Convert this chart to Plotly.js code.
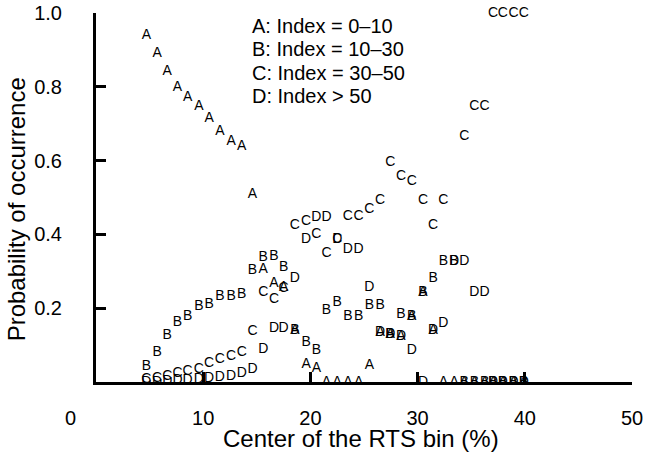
<!DOCTYPE html>
<html>
<head>
<meta charset="utf-8">
<script src="https://cdn.plot.ly/plotly-3.0.1.min.js"></script>
<style>html,body{margin:0;padding:0;background:#fff;}#chart{width:654px;height:464px;}</style>
</head>
<body>
<div id="chart"></div>
<script>
// Centers of the RTS bins (%)
const rtsBin = [4.7,5.7,6.65,7.6,8.55,9.6,10.55,11.55,12.6,13.6,14.6,15.6,16.6,17.5,18.55,19.6,20.55,21.5,22.5,23.5,24.5,25.5,26.5,27.45,28.45,29.45,30.5,31.45,32.4,33.4,34.35,35.3,36.25,37.05,37.95,38.95,39.9];

// Probability of occurrence per index class
const probA = [0.940,0.891,0.841,0.799,0.772,0.746,0.715,0.678,0.651,0.638,0.507,0.305,0.267,0.257,0.139,0.048,0.037,0,0,0,0,0.046,0.134,0.130,0.122,0.177,0.242,0.139,0,0,0,0,0,0,0,0,0];
const probB = [0.041,0.079,0.127,0.161,0.177,0.204,0.211,0.231,0.231,0.238,0.301,0.338,0.341,0.311,0.139,0.106,0.085,0.195,0.215,0.177,0.177,0.206,0.206,0.130,0.182,0.177,0.242,0.281,0.326,0.326,0,0,0,0,0,0,0];
const probC = [0.006,0.010,0.014,0.022,0.028,0.034,0.049,0.060,0.070,0.079,0.136,0.242,0.224,0.254,0.425,0.434,0.401,0.349,0.385,0.448,0.448,0.468,0.493,0.594,0.558,0.543,0.493,0.423,0.493,null,0.665,0.746,0.746,1.0,1.0,1.0,1.0];
const probD = [0,0,0.002,0.003,0.004,0.006,0.010,0.013,0.014,0.022,0.034,0.089,0.145,0.145,0.281,0.385,0.446,0.446,0.385,0.358,0.358,0.257,0.134,0.130,0.122,0.085,0,0.139,0.159,0.326,0.326,0.242,0.242,0,0,0,0];

const seriesLetters = ['A','B','C','D'];
const seriesLabels = ['A: Index = 0\u201310','B: Index = 10\u201330','C: Index = 30\u201350','D: Index > 50'];
const xTickVals = [0,10,20,30,40,50];
const xTickText = ['','10','20','30','40','50'];
const yTickVals = [0,0.2,0.4,0.6,0.8,1.0];
const yTickText = ['','0.2','0.4','0.6','0.8','1.0'];

const FONT = 'Arial, "Liberation Sans", Helvetica, sans-serif';
const allProb = [probA, probB, probC, probD];

const traces = allProb.map((ys, i) => ({
  x: rtsBin,
  y: ys,
  mode: 'text',
  type: 'scatter',
  text: ys.map(() => seriesLetters[i]),
  textposition: 'middle center',
  textfont: {family: FONT, size: 14, color: '#000'},
  cliponaxis: seriesLetters[i] !== 'C',
  showlegend: false,
  hoverinfo: 'x+y'
}));

const legendY = [0.965, 0.903, 0.838, 0.775];
const annotations = seriesLabels.map((t, i) => ({
  text: t, xref: 'paper', yref: 'paper', x: 0.287, y: legendY[i],
  xanchor: 'left', yanchor: 'middle', showarrow: false,
  font: {family: FONT, size: 20, color: '#000'}
}));
annotations.push({
  text: '0', xref: 'paper', yref: 'paper', x: -0.048, y: -0.098,
  xanchor: 'center', yanchor: 'middle', showarrow: false,
  font: {family: FONT, size: 20, color: '#000'}
});
annotations.push({
  text: 'Center of the RTS bin (%)', xref: 'paper', yref: 'paper', x: 0.494, y: -0.152,
  xanchor: 'center', yanchor: 'middle', showarrow: false,
  font: {family: FONT, size: 24, color: '#000'}
});
annotations.push({
  text: 'Probability of occurrence', xref: 'paper', yref: 'paper', x: -0.148, y: 0.467,
  xanchor: 'center', yanchor: 'middle', showarrow: false, textangle: -90,
  font: {family: FONT, size: 24, color: '#000'}
});

const layout = {
  width: 654, height: 464,
  margin: {l: 96, r: 22, t: 13, b: 82, pad: 0},
  paper_bgcolor: '#fff', plot_bgcolor: '#fff',
  showlegend: false,
  xaxis: {
    range: [0, 50], tickmode: 'array', tickvals: xTickVals, ticktext: xTickText,
    showgrid: false, zeroline: false, showline: true, linecolor: '#000', linewidth: 3,
    ticks: 'inside', ticklen: 10, tickwidth: 3, tickcolor: '#000',
    ticklabelstandoff: 16,
    tickfont: {family: FONT, size: 20, color: '#000'}
  },
  yaxis: {
    range: [0, 1], tickmode: 'array', tickvals: yTickVals, ticktext: yTickText,
    showgrid: false, zeroline: false, showline: true, linecolor: '#000', linewidth: 3,
    ticks: 'inside', ticklen: 10, tickwidth: 3, tickcolor: '#000',
    ticklabelstandoff: 27,
    tickfont: {family: FONT, size: 20, color: '#000'}
  },
  annotations: annotations
};

Plotly.newPlot('chart', traces, layout, {displayModeBar: false, staticPlot: true});
</script>
</body>
</html>
